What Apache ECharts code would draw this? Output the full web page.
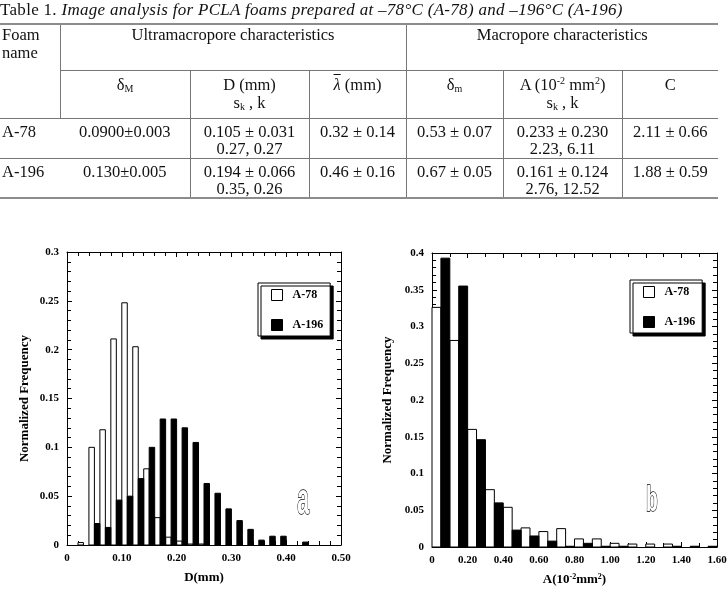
<!DOCTYPE html>
<html>
<head>
<meta charset="utf-8">
<script src="https://cdn.jsdelivr.net/npm/echarts@6/dist/echarts.min.js"></script>
<style>
  body { margin: 0; background: #fff; }
  #wrap { position: relative; width: 728px; height: 591px; overflow: hidden;
          font-family: "Liberation Serif", "Times New Roman", serif; color: #111; }
  #chart { position: absolute; left: 0; top: 0; width: 728px; height: 591px; }
  #cap { position: absolute; left: 0; top: 0; font-size: 17px; letter-spacing: 0.3px; white-space: nowrap; }
  #cap i { font-style: italic; }
  #tbl { position: absolute; left: 0; top: 23px; width: 718px; border-collapse: collapse;
         table-layout: fixed; font-size: 16.5px; line-height: 18px;
         border-top: 2px solid #8c8c8c; border-bottom: 2px solid #8c8c8c; }
  #tbl td { padding: 0; vertical-align: top; text-align: center; white-space: nowrap; }
  #tbl .br { border-right: 1px solid #777; }
  #tbl .bb { border-bottom: 1px solid #777; }
  #tbl .lt { text-align: left; padding-left: 2px; }
  #tbl tr.r1 td { height: 44px; padding-top: 1px; }
  #tbl tr.r2 td { height: 42px; padding-top: 5px; }
  #tbl tr.r3 td { height: 35px; padding-top: 4px; line-height: 17px; border-top: 1px solid #777; }
  #tbl tr.r4 td { height: 34px; padding-top: 4px; line-height: 17px; border-top: 1px solid #777; }
  sub { font-size: 10px; vertical-align: -2px; }
  sup { font-size: 10px; vertical-align: 6px; line-height: 0; }
  .ov { text-decoration: overline; font-style: italic; }
</style>
</head>
<body>
<div id="wrap">
  <div id="chart"></div>
  <div id="cap">Table 1. <i>Image analysis for PCLA foams prepared at –78°C (A-78) and –196°C (A-196)</i></div>
  <table id="tbl">
    <colgroup>
      <col style="width:60px"><col style="width:130px"><col style="width:119px">
      <col style="width:97px"><col style="width:97px"><col style="width:119px"><col style="width:96px">
    </colgroup>
    <tr class="r1">
      <td rowspan="2" class="lt br">Foam<br>name</td>
      <td colspan="3" class="br bb">Ultramacropore characteristics</td>
      <td colspan="3" class="bb">Macropore characteristics</td>
    </tr>
    <tr class="r2">
      <td class="br">δ<sub>M</sub></td>
      <td class="br">D (mm)<br>s<sub>k</sub> , k</td>
      <td class="br"><span class="ov">λ</span> (mm)</td>
      <td class="br">δ<sub>m</sub></td>
      <td class="br">A (10<sup>-2</sup> mm<sup>2</sup>)<br>s<sub>k</sub> , k</td>
      <td>C</td>
    </tr>
    <tr class="r3">
      <td class="lt">A-78</td>
      <td class="br">0.0900±0.003</td>
      <td class="br">0.105 ± 0.031<br>0.27, 0.27</td>
      <td class="br">0.32 ± 0.14</td>
      <td class="br">0.53 ± 0.07</td>
      <td class="br">0.233 ± 0.230<br>2.23, 6.11</td>
      <td>2.11 ± 0.66</td>
    </tr>
    <tr class="r4">
      <td class="lt">A-196</td>
      <td class="br">0.130±0.005</td>
      <td class="br">0.194 ± 0.066<br>0.35, 0.26</td>
      <td class="br">0.46 ± 0.16</td>
      <td class="br">0.67 ± 0.05</td>
      <td class="br">0.161 ± 0.124<br>2.76, 12.52</td>
      <td>1.88 ± 0.59</td>
    </tr>
  </table>
</div>
<script>
// (a) diametro D, classi da 0.02 mm: A-78 nella meta' sinistra, A-196 nella destra
var dBins  = [0.02, 0.04, 0.06, 0.08, 0.10, 0.12, 0.14, 0.16, 0.18, 0.20, 0.22,
              0.24, 0.26, 0.28, 0.30, 0.32, 0.34, 0.36, 0.38, 0.40, 0.42];
var dA78   = [0.0025, 0.100, 0.118, 0.211, 0.248, 0.203, 0.078, 0.028, 0.008, 0.004, 0.001,
              0.001, 0, 0, 0, 0, 0, 0, 0, 0, 0];
var dA196  = [0, 0.022, 0.018, 0.046, 0.050, 0.068, 0.100, 0.129, 0.129, 0.120, 0.105,
              0.063, 0.053, 0.037, 0.025, 0.016, 0.005, 0.009, 0.009, 0, 0.003];

// (b) area A, classi da 0.1 (10^-2 mm^2)
var aBins  = [0, 0.1, 0.2, 0.3, 0.4, 0.5, 0.6, 0.7, 0.8, 0.9, 1.0, 1.1, 1.2, 1.3, 1.4, 1.5];
var aA78   = [0.326, 0.281, 0.160, 0.078, 0.054, 0.026, 0.021, 0.025, 0.011, 0.011,
              0.005, 0.004, 0.004, 0.004, 0, 0];
var aA196  = [0.393, 0.355, 0.146, 0.060, 0.023, 0.015, 0.008, 0.001, 0.005, 0.001,
              0.001, 0, 0, 0.001, 0.001, 0.001];

var serif = 'Liberation Serif';

function pairs(xs, ys) {
    return xs.map(function (x, i) { return [x, ys[i]]; });
}

// barra = meta' della classe, disegnata tramite le coordinate dell'asse
function barRenderer(offset, width, fill) {
    return function (params, api) {
        var v = api.value(1);
        if (!v) return null;
        var x0 = api.value(0) + offset;
        var top = api.coord([x0, v]);
        var base = api.coord([x0 + width, 0]);
        return {
            type: 'rect',
            shape: { x: top[0], y: top[1], width: base[0] - top[0], height: base[1] - top[1] },
            style: { fill: fill, stroke: '#000', lineWidth: 1 }
        };
    };
}

function axis(opts, showLabel, fmt) {
    var a = {
        type: 'value',
        axisLine: { show: true, onZero: false, lineStyle: { color: '#000', width: 1 } },
        axisTick: { show: true, inside: true, length: 5, lineStyle: { color: '#000' } },
        minorTick: { show: true, splitNumber: 5, length: 4, lineStyle: { color: '#000' } },
        splitLine: { show: false },
        axisLabel: { show: showLabel, fontFamily: serif, fontWeight: 'bold', fontSize: 11,
                     color: '#000', margin: 8 }
    };
    if (fmt) a.axisLabel.formatter = fmt;
    for (var k in opts) a[k] = opts[k];
    return a;
}

var fix2 = function (v) { return v === 0 ? '0' : v.toFixed(2); };
var nameStyle = { fontFamily: serif, fontWeight: 'bold', fontSize: 13, color: '#000' };

function legend(left, top) {
    return {
        left: left, top: top, orient: 'vertical', icon: 'rect', selectedMode: false,
        itemWidth: 11, itemHeight: 11, itemGap: 18, padding: [6, 7, 5, 13],
        backgroundColor: '#fff', borderColor: '#000', borderWidth: 1,
        shadowColor: '#000', shadowBlur: 0, shadowOffsetX: 3, shadowOffsetY: 3,
        textStyle: { fontFamily: serif, fontWeight: 'bold', fontSize: 12, color: '#000',
                     padding: [0, 0, 0, 5] },
        data: [
            { name: 'A-78', itemStyle: { color: '#fff', borderColor: '#000', borderWidth: 1 } },
            { name: 'A-196', itemStyle: { color: '#000', borderColor: '#000', borderWidth: 1 } }
        ]
    };
}

var option = {
    animation: false,
    grid: [
        { left: 67, top: 252, width: 274, height: 293, outerBoundsMode: 'none' },
        { left: 432, top: 253, width: 285, height: 294, outerBoundsMode: 'none' }
    ],
    xAxis: [
        axis({ gridIndex: 0, position: 'bottom', min: 0, max: 0.5, interval: 0.1,
               name: 'D(mm)', nameLocation: 'middle', nameGap: 26, nameTextStyle: nameStyle }, true, fix2),
        axis({ gridIndex: 0, position: 'top', min: 0, max: 0.5, interval: 0.1 }, false),
        axis({ gridIndex: 1, position: 'bottom', min: 0, max: 1.6, interval: 0.2,
               minorTick: { show: true, splitNumber: 2, length: 4, lineStyle: { color: '#000' } },
               name: 'A(10{s|-2}mm{s|2})', nameLocation: 'middle', nameGap: 26,
               nameTextStyle: Object.assign({ rich: { s: { fontFamily: serif, fontWeight: 'bold',
                   fontSize: 8, verticalAlign: 'top', color: '#000' } } }, nameStyle) }, true, fix2),
        axis({ gridIndex: 1, position: 'top', min: 0, max: 1.6, interval: 0.2,
               minorTick: { show: true, splitNumber: 2, length: 4, lineStyle: { color: '#000' } } }, false)
    ],
    yAxis: [
        axis({ gridIndex: 0, position: 'left', min: 0, max: 0.3, interval: 0.05,
               name: 'Normalized Frequency', nameLocation: 'middle', nameGap: 36, nameTextStyle: nameStyle }, true),
        axis({ gridIndex: 0, position: 'right', min: 0, max: 0.3, interval: 0.05 }, false),
        axis({ gridIndex: 1, position: 'left', min: 0, max: 0.4, interval: 0.05,
               name: 'Normalized Frequency', nameLocation: 'middle', nameGap: 38, nameTextStyle: nameStyle }, true),
        axis({ gridIndex: 1, position: 'right', min: 0, max: 0.4, interval: 0.05 }, false)
    ],
    legend: [legend(258, 283), legend(630, 280)],
    series: [
        { type: 'custom', name: 'A-78', xAxisIndex: 0, yAxisIndex: 0, encode: { x: 0, y: 1 },
          data: pairs(dBins, dA78), renderItem: barRenderer(0, 0.01, '#fff') },
        { type: 'custom', name: 'A-196', xAxisIndex: 0, yAxisIndex: 0, encode: { x: 0, y: 1 },
          data: pairs(dBins, dA196), renderItem: barRenderer(0.01, 0.01, '#000') },
        { type: 'custom', name: 'A-78', xAxisIndex: 2, yAxisIndex: 2, encode: { x: 0, y: 1 },
          data: pairs(aBins, aA78), renderItem: barRenderer(0, 0.05, '#fff') },
        { type: 'custom', name: 'A-196', xAxisIndex: 2, yAxisIndex: 2, encode: { x: 0, y: 1 },
          data: pairs(aBins, aA196), renderItem: barRenderer(0.05, 0.05, '#000') }
    ],
    graphic: [
        { type: 'text', x: 303, y: 502, scaleX: 0.48,
          style: { text: 'a', fontFamily: 'Liberation Sans', fontWeight: 'bold', fontSize: 44, fill: '#fff',
                   stroke: '#000', lineWidth: 1.5, textAlign: 'center', textVerticalAlign: 'middle' } },
        { type: 'text', x: 652, y: 501, scaleX: 0.55,
          style: { text: 'b', fontFamily: 'Liberation Sans', fontWeight: 'bold', fontSize: 35, fill: '#fff',
                   stroke: '#000', lineWidth: 1.5, textAlign: 'center', textVerticalAlign: 'middle' } }
    ]
};

var chart = echarts.init(document.getElementById('chart'));
chart.setOption(option);
</script>
</body>
</html>
